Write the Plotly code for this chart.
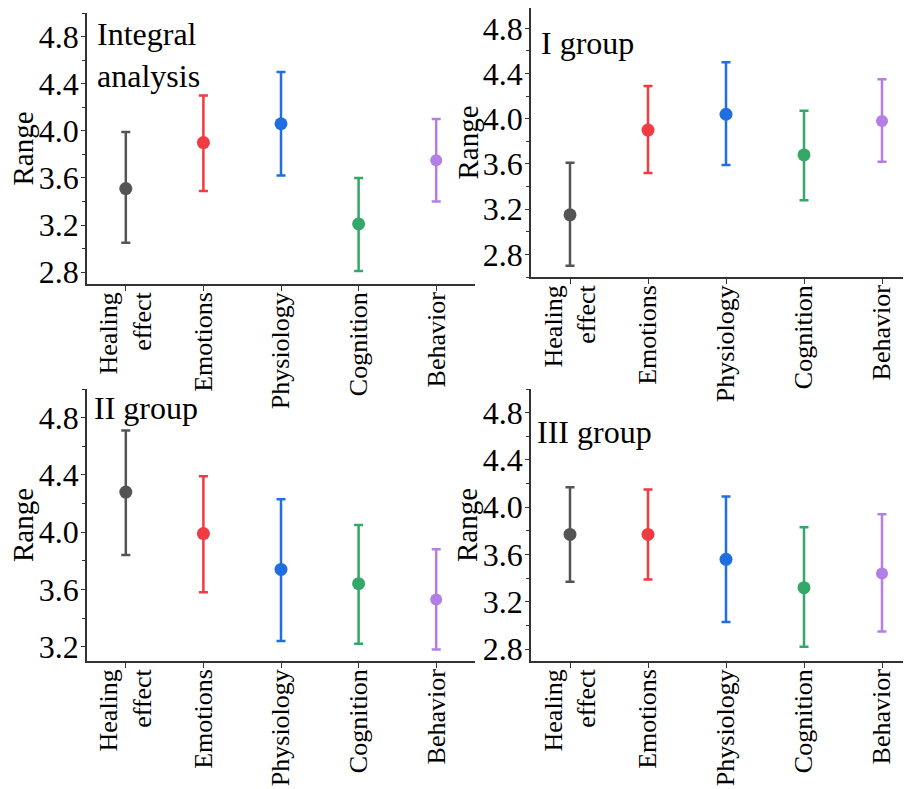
import plotly.graph_objects as go

categories = ["Healing<br>effect", "Emotions", "Physiology", "Cognition", "Behavior"]
colors = ["#545454", "#ef3b42", "#1f6fe0", "#34a868", "#b37ee6"]

integral_mean = [3.51, 3.90, 4.06, 3.21, 3.75]
integral_upper = [3.99, 4.30, 4.50, 3.60, 4.10]
integral_lower = [3.05, 3.49, 3.62, 2.81, 3.40]

group1_mean = [3.15, 3.90, 4.04, 3.68, 3.98]
group1_upper = [3.61, 4.29, 4.50, 4.07, 4.35]
group1_lower = [2.70, 3.52, 3.59, 3.28, 3.62]

group2_mean = [4.28, 3.99, 3.74, 3.64, 3.53]
group2_upper = [4.71, 4.39, 4.23, 4.05, 3.88]
group2_lower = [3.84, 3.58, 3.24, 3.22, 3.18]

group3_mean = [3.77, 3.77, 3.56, 3.32, 3.44]
group3_upper = [4.17, 4.15, 4.09, 3.83, 3.94]
group3_lower = [3.37, 3.39, 3.03, 2.82, 2.95]

panel_titles = ["Integral<br>analysis", "I group", "II group", "III group"]
y_title = "Range"
y_ranges = [[2.7, 5.0], [2.6, 4.98], [3.1, 5.0], [2.7, 5.0]]

OFF = 8  # page body margin
W, H = 911 - OFF, 789 - OFF
FONT = "Liberation Serif, Times New Roman, serif"

panels = [
    (integral_mean, integral_upper, integral_lower),
    (group1_mean, group1_upper, group1_lower),
    (group2_mean, group2_upper, group2_lower),
    (group3_mean, group3_upper, group3_lower),
]

# pixel boxes in window coords: (left, right, top, bottom)
boxes = [(87, 475, 13, 284), (531, 911, 8, 277), (87, 475, 389, 661), (531, 911, 389, 661)]
title_pos = [(95, 55), (539, 43), (92, 408), (535, 432)]
ytitle_x = [23, 467, 23, 467]

fig = go.Figure()
layout = {}
annotations = []
for p, ((mean, up, lo), (l, r, t, b)) in enumerate(zip(panels, boxes)):
    sfx = "" if p == 0 else str(p + 1)
    for i, cat in enumerate(categories):
        fig.add_trace(go.Scatter(
            x=[i], y=[mean[i]], mode="markers",
            marker=dict(color=colors[i], size=13 if i < 4 else 12),
            error_y=dict(type="data", symmetric=False,
                         array=[up[i] - mean[i]], arrayminus=[mean[i] - lo[i]],
                         color=colors[i], thickness=2.5, width=4.5),
            xaxis="x" + sfx, yaxis="y" + sfx, showlegend=False,
        ))
    step = (r - l) / 5.0 if r < 900 else 78.0
    xr = [-0.5, -0.5 + (r - l) / step]
    layout["xaxis" + sfx] = dict(
        domain=[max(0.0, (l - OFF) / W), min(1.0, (r - OFF) / W)], range=xr, anchor="y" + sfx,
        tickmode="array", tickvals=list(range(5)), ticktext=categories,
        tickangle=-90, showline=True, linecolor="#333", linewidth=1.5,
        ticks="outside", ticklen=5, tickcolor="#333", showgrid=False, zeroline=False,
        automargin=False, ticklabelstandoff=-9,
        tickfont=dict(family=FONT, size=26, color="black"),
    )
    layout["yaxis" + sfx] = dict(
        domain=[max(0.0, 1 - (b - OFF) / H), min(1.0, 1 - (t - OFF) / H)],
        range=y_ranges[p], anchor="x" + sfx,
        tick0=2.8, dtick=0.4, tickformat=".1f",
        showline=True, linecolor="#333", linewidth=1.5,
        ticks="outside", ticklen=4, tickcolor="#333", showgrid=False, zeroline=False,
        automargin=False, ticklabelstandoff=-4,
        minor=dict(ticks="outside", ticklen=3, dtick=0.2, tickcolor="#333", showgrid=False),
        tickfont=dict(family=FONT, size=32, color="black"),
    )
    annotations.append(dict(
        text=y_title, textangle=-90, x=(ytitle_x[p] - OFF) / W, y=1 - ((t + b) / 2 - OFF) / H,
        xref="paper", yref="paper", xanchor="center", yanchor="middle", showarrow=False,
        font=dict(family=FONT, size=29, color="black"),
    ))

for (tx, ty), txt in zip(title_pos, panel_titles):
    annotations.append(dict(
        text=txt, x=(tx - OFF) / W, y=1 - (ty - OFF) / H, xref="paper", yref="paper",
        xanchor="left", yanchor="middle", align="left", showarrow=False,
        font=dict(family=FONT, size=32, color="black"),
    ))

fig.update_layout(
    width=W, height=H, margin=dict(l=0, r=0, t=0, b=0),
    paper_bgcolor="white", plot_bgcolor="white",
    annotations=annotations, **layout,
)
fig.write_html("out.html")
